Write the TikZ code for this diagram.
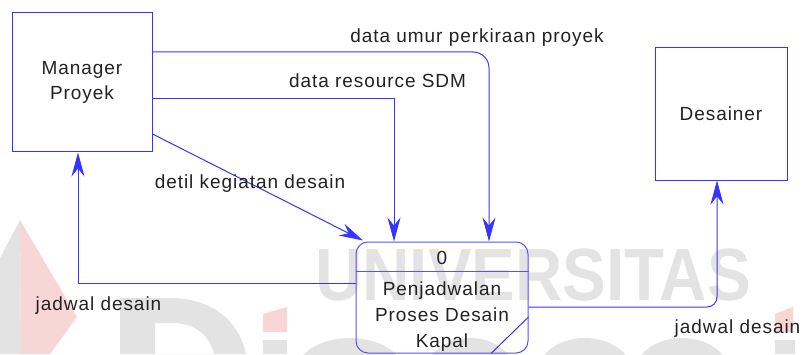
\documentclass[tikz,border=0pt]{standalone}
\usepackage{fontspec}
\setmainfont{Liberation Sans}
\newfontfamily\lblfont[LetterSpace=5]{Liberation Sans}
\usetikzlibrary{arrows.meta,calc}
\definecolor{flowblue}{HTML}{3535FF}
\definecolor{inkgray}{HTML}{222222}
\definecolor{wmgray}{HTML}{E3E3E3}
\definecolor{wmpink}{HTML}{F8D6D6}
\begin{document}
\begin{tikzpicture}[x=1pt,y=1pt,
  entity/.style={draw=flowblue, line width=1pt, align=center, text=inkgray,
    font=\lblfont\fontsize{19}{25}\selectfont},
  procbox/.style={draw=flowblue!85, line width=1pt, rounded corners=12pt,
    minimum width=172pt, minimum height=111pt},
  flow/.style={draw=flowblue, line width=1pt,
    -{Stealth[length=24pt,width=13pt,inset=8pt]}},
  lbl/.style={font=\lblfont\fontsize{19}{19}\selectfont, text=inkgray,
    anchor=base, inner sep=0pt},
]
\useasboundingbox (0,0) rectangle (803,354);

% --- faint background logo ---
\fill[wmgray] (20,134) -- (0,96) -- (0,0) -- (21,0) -- cycle;
\fill[wmpink] (20,134) -- (77,37) -- (50,0) -- (21,0) -- cycle;
\fill[wmgray, even odd rule]
  (120,0) -- (120,56) -- (170,56) .. controls (215,56) and (240,30) .. (246,0) -- cycle
  (155,0) -- (155,31) -- (172,31) .. controls (195,31) and (210,18) .. (214,0) -- cycle;
\fill[wmpink] (263,22) -- (263,40) -- (287,47) -- (287,22) -- cycle;
\fill[wmgray] (263,0) rectangle (287,14);
\fill[wmpink] (775,22) -- (775,40) -- (793,47) -- (793,22) -- cycle;
\fill[wmgray] (775,0) rectangle (795,14);
\foreach \cx/\rx in {350/55, 470/45, 585/48, 682/48}{
  \fill[wmgray, even odd rule] (\cx,-20) ellipse [x radius=\rx, y radius=36]
                              (\cx,-20) ellipse [x radius=\rx-20, y radius=18];
}
\node[anchor=base, text=wmgray, inner sep=0pt] (wm) at (533,54)
  {\scalebox{0.885}[1]{\fontsize{74}{74}\selectfont\bfseries UNIVERSITAS}};

% --- external entities ---
\node[entity, minimum width=140pt, minimum height=139pt] (mgr) at (82,271.5) {Manager\\Proyek};
\node[entity, minimum width=132pt, minimum height=132pt] (des) at (721,240) {Desainer};

% --- process ---
\node[procbox] (proc) at (442,56.5) {};
\draw[flowblue!85, line width=1pt] (proc.west |- 0,83) -- (proc.east |- 0,83);
\draw[flowblue, line width=1pt] ([yshift=-19.5pt]proc.east) -- ([xshift=49pt]proc.south);
\node[lbl] (pid) at (442,90) {0};
\node[lbl] (pn1) at (442,59) {Penjadwalan};
\node[lbl] (pn2) at (442,33) {Proses Desain};
\node[lbl] (pn3) at (442,7) {Kapal};

% --- data flows ---
\draw[flow, rounded corners=16pt] (mgr.east |- 0,302) -| (proc.north -| 489,0);
\draw[flow] (mgr.east |- 0,255) -| (proc.north -| 394,0);
\draw[flow] (mgr.east |- 0,220) -- ([xshift=-79pt,yshift=1pt]proc.north);
\draw[flow] (proc.west |- 0,71) -| (mgr.south -| 78,0);
\draw[flow, rounded corners=10pt] (proc.east |- 0,47) -| (des.south -| 717,0);

% --- flow labels ---
\node[lbl] (f1) at (477,311) {data umur perkiraan proyek};
\node[lbl] (f2) at (377.5,266) {data resource SDM};
\node[lbl] (f3) at (250,166) {detil kegiatan desain};
\node[lbl] (f4) at (98.5,44) {jadwal desain};
\node[lbl] (f5) at (737.5,21) {jadwal desain};
\end{tikzpicture}
\end{document}
